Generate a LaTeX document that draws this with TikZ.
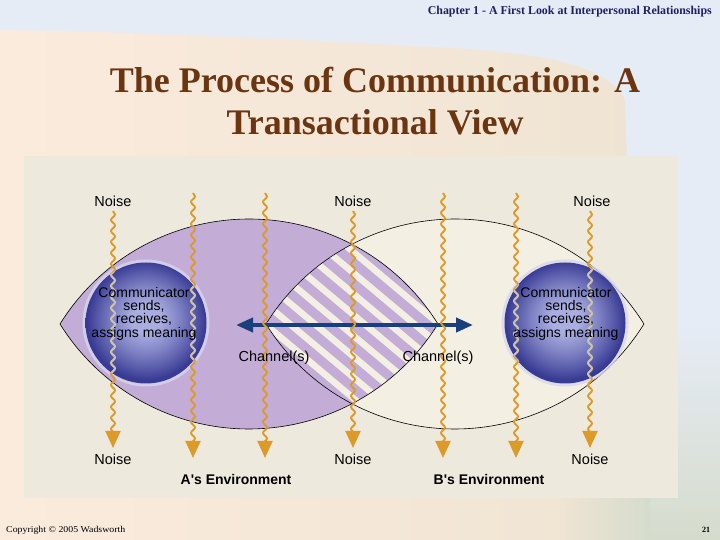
\documentclass[tikz,border=0pt]{standalone}
\usepackage{fontspec}
\setmainfont{Liberation Serif}
\setsansfont{Liberation Sans}
\usetikzlibrary{arrows.meta,decorations.pathmorphing}
\definecolor{skyc}{HTML}{E6ECF6}
\definecolor{bldg}{HTML}{EFE4D3}
\definecolor{peach}{HTML}{FBEBDD}
\definecolor{greenish}{HTML}{D5DCCC}
\definecolor{panel}{HTML}{EDEADD}
\definecolor{cream}{HTML}{F4EFE3}
\definecolor{lav}{HTML}{C3ADD6}
\definecolor{wavec}{HTML}{DC9A2A}
\definecolor{wavegrey}{HTML}{C8C2BC}
\definecolor{arrowblue}{HTML}{1B3E7D}
\definecolor{titlec}{HTML}{6A3510}
\definecolor{headc}{HTML}{1E2060}
\definecolor{sphin}{HTML}{A9ADE0}
\definecolor{sphout}{HTML}{383B94}
\definecolor{halo}{HTML}{D9D6EC}
\pgfdeclareradialshading{sphereshade}{\pgfpoint{0bp}{2bp}}{color(0bp)=(sphin); color(6bp)=(sphin); color(14bp)=(sphin!62!sphout); color(20bp)=(sphin!28!sphout); color(24.5bp)=(sphout); color(50bp)=(sphout)}
\tikzset{
  lab/.style={font=\sffamily\fontsize{14.5}{15}\selectfont, inner sep=0pt},
  envlab/.style={font=\sffamily\bfseries\fontsize{14}{15}\selectfont, inner sep=0pt},
  sphtext/.style={font=\sffamily\fontsize{14}{13.4}\selectfont, align=center, inner sep=0pt},
  wave/.style={draw=wavec, line width=1.9pt, decorate,
    decoration={snake, amplitude=2pt, segment length=11pt, post length=3pt},
    -{Triangle[length=17pt,width=15pt]}},
  wavelight/.style={draw=wavegrey, line width=1.9pt, decorate,
    decoration={snake, amplitude=2pt, segment length=11pt, post length=3pt}},
  lensline/.style={draw=black, line width=0.6pt}
}
\begin{document}
\begin{tikzpicture}[x=1pt,y=1pt]
\useasboundingbox (0,0) rectangle (720,540);
% ---------- background ----------
\fill[skyc] (0,0) rectangle (720,540);
\shade[left color=peach, right color=bldg] (0,0) -- (0,510) .. controls (150,508) and (300,500) .. (450,492)
  .. controls (560,486) and (610,470) .. (625,440) -- (640,0) -- cycle;
\shade[top color=skyc, bottom color=greenish] (630,0) rectangle (720,220);
\shade[left color=bldg, right color=greenish] (560,0) rectangle (650,42);
% ---------- panel ----------
\fill[panel] (24,42) rectangle (678,384);
% ---------- lenses ----------
\fill[lav] (60,216) arc[start angle=148.1, end angle=31.9, radius=222.6]
  arc[start angle=-31.9, end angle=-148.1, radius=222.6] -- cycle;
\fill[cream] (266,216) arc[start angle=148.1, end angle=31.9, radius=222.6]
  arc[start angle=-31.9, end angle=-148.1, radius=222.6] -- cycle;
\begin{scope}
  \clip (60,216) arc[start angle=148.1, end angle=31.9, radius=222.6]
    arc[start angle=-31.9, end angle=-148.1, radius=222.6] -- cycle;
  \clip (266,216) arc[start angle=148.1, end angle=31.9, radius=222.6]
    arc[start angle=-31.9, end angle=-148.1, radius=222.6] -- cycle;
  \fill[cream] (250,100) rectangle (450,330);
  \begin{scope}[shift={(352,216)}, rotate=50]
    \foreach \i in {-12,...,12}
      \fill[lav] (\i*16-4.6,-160) rectangle (\i*16+4.6,160);
  \end{scope}
\end{scope}
\draw[lensline] (60,216) arc[start angle=148.1, end angle=31.9, radius=222.6]
  arc[start angle=-31.9, end angle=-148.1, radius=222.6] -- cycle;
\draw[lensline] (266,216) arc[start angle=148.1, end angle=31.9, radius=222.6]
  arc[start angle=-31.9, end angle=-148.1, radius=222.6] -- cycle;
% ---------- spheres ----------
\coordinate (sA) at (146,217);
\coordinate (sB) at (565,217);
\foreach \s in {sA,sB}{
  \fill[halo, opacity=0.8] (\s) circle (63.5);
  \shade[shading=sphereshade] (\s) circle (60.5);
}
% ---------- channel arrow ----------
\coordinate (chL) at (236,215);
\coordinate (chR) at (473,215);
\draw[arrowblue, line width=4pt, {Triangle[length=17pt,width=14pt]}-{Triangle[length=17pt,width=14pt]}] (chL) -- (chR);
% ---------- wavy noise lines ----------
\coordinate (w1t) at (113,329); \coordinate (w1b) at (113,92);
\coordinate (w2t) at (193,347); \coordinate (w2b) at (193,82);
\coordinate (w3t) at (265,347); \coordinate (w3b) at (265,82);
\coordinate (w4t) at (353,329); \coordinate (w4b) at (353,92);
\coordinate (w5t) at (443,347); \coordinate (w5b) at (443,82);
\coordinate (w6t) at (516,347); \coordinate (w6b) at (516,82);
\coordinate (w7t) at (590,329); \coordinate (w7b) at (590,92);
\foreach \k in {1,...,7}
  \draw[wave] (w\k t) -- (w\k b);
\begin{scope}
  \clip (sA) circle (60.5);
  \draw[wavelight] (w1t) -- (w1b);
  \draw[wavelight] (w2t) -- (w2b);
\end{scope}
\begin{scope}
  \clip (sB) circle (60.5);
  \draw[wavelight] (w6t) -- (w6b);
  \draw[wavelight] (w7t) -- (w7b);
\end{scope}
% ---------- texts ----------
\node[sphtext] (tA) at (144,226.4) {Communicator\\sends,\\receives,\\assigns meaning};
\node[sphtext] (tB) at (566,226.4) {Communicator\\sends,\\receives,\\assigns meaning};
\node[lab] (n1) at (113,339) {Noise};
\node[lab] (n2) at (353,339) {Noise};
\node[lab] (n3) at (592,339) {Noise};
\node[lab] (n4) at (113,81) {Noise};
\node[lab] (n5) at (353,81) {Noise};
\node[lab] (n6) at (590,81) {Noise};
\node[lab] (c1) at (274,182) {Channel(s)};
\node[lab] (c2) at (438,182) {Channel(s)};
\node[envlab] (eA) at (236,61) {A\textquotesingle s Environment};
\node[envlab] (eB) at (489,61) {B\textquotesingle s Environment};
% ---------- title, header, footer ----------
\node[font=\bfseries\fontsize{36}{42}\selectfont, text=titlec, align=center, inner sep=0pt] (title) at (375,439) {The Process of Communication: A\\Transactional View};
\node[anchor=east, text=headc, inner sep=0pt] (head) at (712,528) {\resizebox{284pt}{\height}{\bfseries\fontsize{12}{12}\selectfont Chapter 1 - A First Look at Interpersonal Relationships}};
\node[anchor=west, inner sep=0pt] (copy) at (6,10) {\resizebox{119pt}{\height}{\fontsize{9}{9}\selectfont Copyright © 2005 Wadsworth}};
\node[inner sep=0pt] (pg) at (706,10) {\bfseries\fontsize{8}{8}\selectfont 21};
\end{tikzpicture}
\end{document}
